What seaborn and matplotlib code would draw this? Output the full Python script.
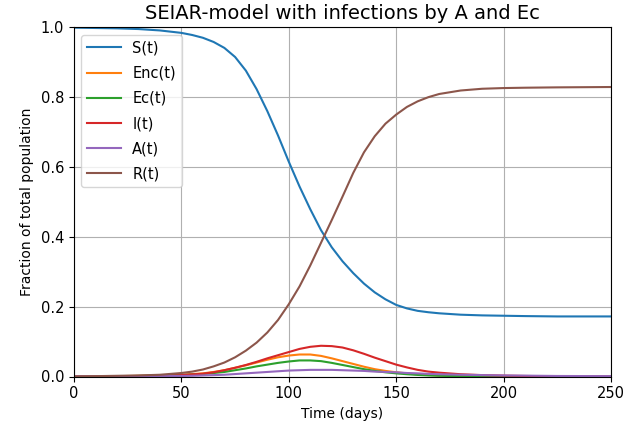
import numpy as np
import pandas as pd
import matplotlib
matplotlib.use("Agg")
import matplotlib.pyplot as plt
import seaborn as sns

# Time points (days)
t = [0, 10, 20, 30, 40, 50, 55, 60, 65, 70, 75, 80, 85, 90, 95, 100, 105, 110,
     115, 120, 125, 130, 135, 140, 145, 150, 155, 160, 165, 170, 180, 190, 200,
     210, 225, 250]

S = [0.999, 0.998, 0.997, 0.995, 0.991, 0.984, 0.978, 0.970, 0.958, 0.941, 0.915,
     0.876, 0.823, 0.760, 0.690, 0.615, 0.544, 0.479, 0.419, 0.370, 0.330, 0.296,
     0.266, 0.241, 0.221, 0.205, 0.195, 0.188, 0.184, 0.181, 0.177, 0.175, 0.174,
     0.173, 0.172, 0.172]

Enc = [0.0003, 0.0005, 0.001, 0.002, 0.003, 0.005, 0.007, 0.009, 0.013, 0.018, 0.025,
       0.032, 0.040, 0.048, 0.055, 0.060, 0.063, 0.063, 0.059, 0.052, 0.044, 0.036,
       0.028, 0.021, 0.016, 0.012, 0.009, 0.006, 0.0045, 0.003, 0.0015, 0.0008,
       0.0004, 0.0002, 0.0001, 0.0]

Ec = [0.0002, 0.0004, 0.0008, 0.0015, 0.0025, 0.004, 0.0055, 0.007, 0.010, 0.013,
      0.018, 0.023, 0.029, 0.034, 0.039, 0.043, 0.046, 0.046, 0.044, 0.039, 0.033,
      0.027, 0.021, 0.016, 0.012, 0.009, 0.0065, 0.0045, 0.003, 0.002, 0.001,
      0.0005, 0.0003, 0.0001, 0.0, 0.0]

I = [0.0002, 0.0004, 0.0008, 0.0015, 0.0025, 0.004, 0.006, 0.008, 0.012, 0.018,
     0.025, 0.033, 0.042, 0.052, 0.061, 0.070, 0.079, 0.085, 0.088, 0.087, 0.083,
     0.075, 0.065, 0.054, 0.044, 0.034, 0.026, 0.019, 0.014, 0.011, 0.0065, 0.004,
     0.0025, 0.0015, 0.0007, 0.0002]

A = [0.0001, 0.0002, 0.0003, 0.0005, 0.0009, 0.0015, 0.002, 0.003, 0.004, 0.005,
     0.007, 0.009, 0.011, 0.013, 0.015, 0.017, 0.018, 0.019, 0.019, 0.019, 0.018,
     0.017, 0.016, 0.014, 0.013, 0.012, 0.010, 0.009, 0.0075, 0.0065, 0.005,
     0.004, 0.003, 0.0025, 0.0015, 0.001]

R = [0.000, 0.001, 0.002, 0.003, 0.005, 0.010, 0.014, 0.020, 0.029, 0.040, 0.055,
     0.074, 0.097, 0.126, 0.162, 0.207, 0.258, 0.318, 0.383, 0.448, 0.515, 0.583,
     0.642, 0.688, 0.724, 0.750, 0.772, 0.788, 0.800, 0.809, 0.819, 0.824, 0.826,
     0.827, 0.828, 0.829]

labels = ["S(t)", "Enc(t)", "Ec(t)", "I(t)", "A(t)", "R(t)"]
series = [S, Enc, Ec, I, A, R]

df = pd.concat([pd.DataFrame({"t": t, "value": s, "var": lab})
                for lab, s in zip(labels, series)], ignore_index=True)

plt.rcParams["font.family"] = ["DejaVu Sans"]
fig = plt.figure(figsize=(6.26, 4.34), dpi=100)
ax = fig.add_axes([74 / 626, 1 - 376.5 / 434, (611 - 74) / 626, (376.5 - 27.3) / 434])

palette = sns.color_palette("tab10", 6)
sns.lineplot(data=df, x="t", y="value", hue="var", hue_order=labels,
             palette=palette, ax=ax, linewidth=1.5, estimator=None)

ax.set_xlim(0, 250)
ax.set_ylim(0, 1)
ax.set_xticks([0, 50, 100, 150, 200, 250])
ax.set_yticks([0.0, 0.2, 0.4, 0.6, 0.8, 1.0])
ax.set_yticklabels(["0.0", "0.2", "0.4", "0.6", "0.8", "1.0"])
ax.tick_params(labelsize=10.5)
ax.grid(True, color="#b0b0b0", linewidth=0.8)
ax.set_axisbelow(True)
ax.set_xlabel("Time (days)", fontsize=10)
ax.set_ylabel("Fraction of total population", fontsize=10, labelpad=5)
ax.set_title("SEIAR-model with infections by A and Ec", fontsize=14)
leg = ax.legend(loc="upper left", title=None, fontsize=10.5,
                labelspacing=0.7, handlelength=2.3)

fig.savefig("out.png", dpi=100)
